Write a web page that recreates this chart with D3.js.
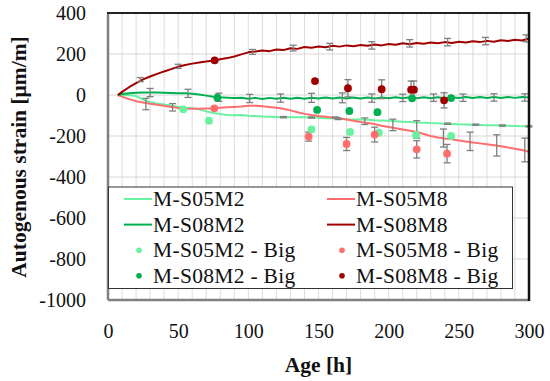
<!DOCTYPE html>
<html><head><meta charset="utf-8">
<script src="https://cdn.jsdelivr.net/npm/d3@7"></script>
<style>body{margin:0;background:#fff}svg{display:block}</style>
</head><body>
<svg id="c" width="550" height="381"></svg>
<script>
// ---- data ----
const times = [7,10,15,20,25,30,35,40,45,50,55,60,65,70,75,80,85,90,95,100,105,110,115,120,125,130,135,140,145,150,155,160,165,170,175,180,185,190,195,200,205,210,215,220,225,230,235,240,245,250,255,260,265,270,275,280,285,290,295,300];
const s05m2 = [0,0,-1,-5,-22,-35,-42,-46,-52,-58,-62,-65,-70,-80,-88,-93,-97,-99,-98,-101,-103,-105,-106,-107,-108,-108,-109,-109,-110,-111,-113,-114,-116,-118,-119,-120,-121,-123,-124,-126,-128,-130,-132,-134,-135,-137,-138,-140,-141,-143,-144,-145,-146,-147,-148,-149,-150,-151,-152,-153];
const s05m8 = [0,-8,-20,-30,-37,-43,-48,-53,-58,-63,-66,-67,-67,-66,-65,-62,-60,-58,-56,-53,-53,-55,-58,-62,-67,-75,-84,-92,-98,-102,-106,-110,-114,-120,-126,-132,-137,-142,-150,-156,-162,-168,-174,-180,-190,-200,-207,-212,-216,-222,-227,-232,-236,-240,-245,-250,-256,-262,-268,-277];
const s08m2 = [0,5,9,11,12,12,12,11,10,9,8,6,2,-3,-8,-11,-13,-15,-13,-18,-14,-19,-14,-18,-13,-18,-13,-18,-13,-17,-12,-17,-12,-17,-12,-17,-12,-17,-12,-16,-11,-16,-11,-16,-11,-16,-11,-16,-11,-15,-10,-15,-10,-15,-10,-15,-10,-14,-10,-12];
const s08m8 = [0,15,38,58,76,90,103,115,126,138,146,153,158,163,168,174,180,188,198,208,212,217,214,222,219,228,225,234,230,237,233,240,236,242,238,244,240,246,242,249,245,252,248,254,250,256,252,258,254,260,256,262,258,264,260,267,263,270,266,276];

// error bars on the lines
const errS08M8 = {t:[23,50,76,103,132,158,188,215,242,269,298], v:[75,140,168,210,229,236,242,252,258,263,276], e:[10,10,8,12,14,16,18,18,18,18,17]};
const errS08M2 = {t:[30,57,79,101,123,145,167,188,210,232,253,275,297], v:[12,8,-11,-17,-15,-14,-14,-15,-14,-13,-13,-12,-12], e:[20,20,20,20,20,22,24,20,18,18,18,18,18]};
const errS05M2 = {t:[125,145,164,183,203,242,262,281,300], v:[-108,-110,-116,-128,-146,-140,-145,-149,-153], e:[3,3,4,16,28,3,3,3,3]};
const errS05M8 = {t:[27,46,162,220,239,258,277,297], v:[-44,-60,-110,-168,-210,-226,-246,-268], e:[28,18,3,43,44,45,52,58]};

// "Big" specimen points
const big05m2 = {t:[53.6,72,145,172.5,193,219.5,244.5], v:[-70,-125,-168,-180,-184,-195,-200], e:[0,0,0,0,0,0,0]};
const big05m8 = {t:[75.8,143,170,190,220,241.6], v:[-65,-203,-239,-193,-265,-286], e:[0,22,32,36,42,45]};
const big08m2 = {t:[78,149,172,192,216.7,244.5], v:[-13,-73,-78,-84,-16,-15], e:[0,0,0,0,0,0]};
const big08m8 = {t:[76,147.5,171,195,216,218,239.5], v:[169,68,33,28,26,26,-26], e:[0,0,42,46,42,42,37]};

const xTicks = [0,50,100,150,200,250,300];
const yTicks = [400,200,0,-200,-400,-600,-800,-1000];

const legendItems = [
  {name:"M-S05M2", color:"#66f29f", type:"line"},
  {name:"M-S05M8", color:"#ff6d6d", type:"line"},
  {name:"M-S08M2", color:"#00b050", type:"line"},
  {name:"M-S08M8", color:"#a00000", type:"line"},
  {name:"M-S05M2 - Big", color:"#66f29f", type:"dot"},
  {name:"M-S05M8 - Big", color:"#ff6d6d", type:"dot"},
  {name:"M-S08M2 - Big", color:"#00b050", type:"dot"},
  {name:"M-S08M8 - Big", color:"#a00000", type:"dot"}
];

// ---- drawing ----
const svg = d3.select("#c");
const FONT = "Liberation Serif";
const L=108, R=529, T=13, B=300;
const x = d3.scaleLinear().domain([0,300]).range([L,R]);
const y = d3.scaleLinear().domain([-1000,400]).range([B,T]);

// gridlines
const g = svg.append("g");
g.selectAll("line.vg").data(x.ticks(30)).enter().append("line")
  .attr("x1",d=>x(d)).attr("x2",d=>x(d)).attr("y1",T).attr("y2",B)
  .attr("stroke","#dcdcdc").attr("stroke-width",1);
g.selectAll("line.hg").data(yTicks).enter().append("line")
  .attr("x1",L).attr("x2",R).attr("y1",d=>y(d)).attr("y2",d=>y(d))
  .attr("stroke","#d6d6d6").attr("stroke-width",1);

// lines
const lineGen = vals => d3.line().x((d,i)=>x(times[i])).y(d=>y(d))(vals);
const series = [[s05m2,"#66f29f"],[s05m8,"#ff6d6d"],[s08m2,"#00b050"],[s08m8,"#a00000"]];
series.forEach(([vals,c])=>{
  svg.append("path").attr("d",lineGen(vals)).attr("fill","none")
    .attr("stroke",c).attr("stroke-width",2).attr("stroke-linejoin","round");
});

// error bars
function errBars(obj){
  const eg = svg.append("g").attr("stroke","#7f7f7f").attr("stroke-width",1.3);
  obj.t.forEach((t,i)=>{
    const e = obj.e[i]; if(!e) return;
    const cx = x(t), y1 = y(obj.v[i]+e), y2 = y(obj.v[i]-e);
    eg.append("line").attr("x1",cx).attr("x2",cx).attr("y1",y1).attr("y2",y2);
    eg.append("line").attr("x1",cx-3.5).attr("x2",cx+3.5).attr("y1",y1).attr("y2",y1);
    eg.append("line").attr("x1",cx-3.5).attr("x2",cx+3.5).attr("y1",y2).attr("y2",y2);
  });
}
[errS08M8,errS08M2,errS05M2,errS05M8,big05m8,big08m8].forEach(errBars);

// dots
[[big05m2,"#66f29f"],[big05m8,"#ff6d6d"],[big08m2,"#00b050"],[big08m8,"#a00000"]].forEach(([o,c])=>{
  svg.append("g").selectAll("circle").data(o.t).enter().append("circle")
    .attr("cx",d=>x(d)).attr("cy",(d,i)=>y(o.v[i])).attr("r",3.9).attr("fill",c);
});

// plot frame
svg.append("line").attr("x1",L).attr("x2",L).attr("y1",T).attr("y2",B).attr("stroke","#808080").attr("stroke-width",2.5);
svg.append("line").attr("x1",L).attr("x2",R).attr("y1",B).attr("y2",B).attr("stroke","#808080").attr("stroke-width",2.5);
svg.append("line").attr("x1",L-1).attr("x2",R+1).attr("y1",T).attr("y2",T).attr("stroke","#222").attr("stroke-width",2);
svg.append("line").attr("x1",R).attr("x2",R).attr("y1",T-1).attr("y2",B+1).attr("stroke","#111").attr("stroke-width",2.5);

// legend
const lg = svg.append("g");
lg.append("rect").attr("x",108.5).attr("y",187).attr("width",404).attr("height",101.5)
  .attr("fill","#fff").attr("stroke","#333").attr("stroke-width",1);
legendItems.forEach((it,i)=>{
  const col = i%2, row = Math.floor(i/2);
  const x0 = col===0 ? 124 : 327;
  const cy = 199 + row*25.6;
  if(it.type==="line"){
    lg.append("line").attr("x1",x0).attr("x2",x0+28).attr("y1",cy).attr("y2",cy)
      .attr("stroke",it.color).attr("stroke-width",2);
  } else {
    lg.append("circle").attr("cx",x0+15).attr("cy",cy).attr("r",2.8).attr("fill",it.color);
  }
  lg.append("text").attr("x",x0+29).attr("y",cy+7).text(it.name)
    .attr("font-family",FONT).attr("font-size",21.5).attr("letter-spacing",0.3).attr("fill","#111");
});

// axes
const fmt = d => String(d);
const xa = svg.append("g").attr("transform",`translate(0,${B})`)
  .call(d3.axisBottom(x).tickValues(xTicks).tickFormat(fmt).tickSize(0).tickPadding(0));
xa.attr("font-family",FONT);
xa.select(".domain").remove();
xa.selectAll("text").attr("y",38).attr("dy",0).attr("font-family",FONT).attr("font-size",20).attr("fill","#111");

const ya = svg.append("g").attr("transform",`translate(${L},0)`)
  .call(d3.axisLeft(y).tickValues(yTicks).tickFormat(fmt).tickSize(0).tickPadding(0));
ya.attr("font-family",FONT);
ya.select(".domain").remove();
ya.selectAll("text").attr("x",-22).attr("dy","0.33em").attr("font-family",FONT).attr("font-size",20).attr("fill","#111");

// titles
svg.append("text").attr("x",(L+R)/2).attr("y",372).attr("text-anchor","middle")
  .attr("font-family",FONT).attr("font-weight","bold").attr("font-size",21.5).attr("fill","#111").text("Age [h]");
svg.append("text").attr("transform",`translate(26,157) rotate(-90)`).attr("text-anchor","middle")
  .attr("font-family",FONT).attr("font-weight","bold").attr("font-size",21.5).attr("fill","#111").text("Autogenous strain [μm/m]");
</script>
</body></html>
